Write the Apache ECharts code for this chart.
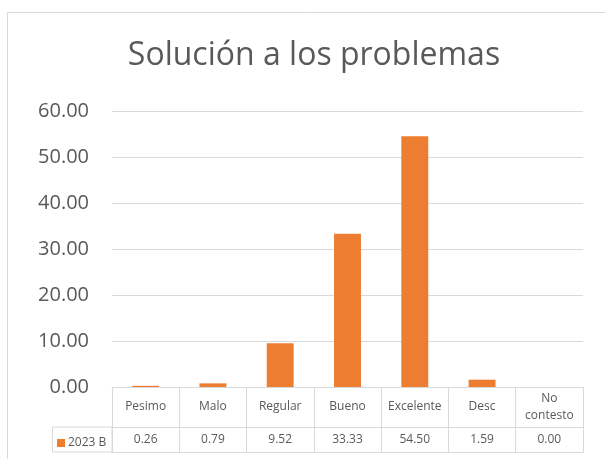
<!DOCTYPE html>
<html>
<head>
<meta charset="utf-8">
<script src="https://cdn.jsdelivr.net/npm/echarts@6/dist/echarts.min.js"></script>
<style>
  html, body { margin: 0; padding: 0; background: #fff; }
  #main { width: 605px; height: 459px; }
</style>
</head>
<body>
<div id="main"></div>
<script>
// datos de la gráfica
var categories = ["Pesimo", "Malo", "Regular", "Bueno", "Excelente", "Desc", "No\ncontesto"];
var values = [0.26, 0.79, 9.52, 33.33, 54.5, 1.59, 0.0];
var seriesName = "2023 B";
var yTicks = [0, 10, 20, 30, 40, 50, 60];

var FONT = "Open Sans";
var TEXT = "#595959";
var LINE = "#D9D9D9";
var ORANGE = "#ED7D31";

var chart = echarts.init(document.getElementById("main"));

// filas de la tabla debajo del eje
var gridLeft = 112, gridRight = 22, gridTop = 111, gridBottom = 72;
var headerH = 40, rowH = 25;

chart.setOption({
  animation: false,
  backgroundColor: "#fff",
  title: {
    text: "Solución a los problemas",
    left: 309,
    top: 35,
    textAlign: "center",
    textStyle: { fontFamily: FONT, fontSize: 32, fontWeight: "normal", color: TEXT }
  },
  legend: {
    data: [seriesName],
    left: 52,
    top: 432,
    icon: "rect",
    itemWidth: 8,
    itemHeight: 8,
    itemGap: 4,
    textStyle: { fontFamily: FONT, fontSize: 12, color: TEXT, padding: [0, 0, 0, -2] }
  },
  grid: { left: gridLeft, right: gridRight, top: gridTop, bottom: gridBottom },
  xAxis: [
    {
      type: "category",
      data: categories,
      axisLine: { show: true, lineStyle: { color: LINE, width: 1 } },
      axisTick: { show: true, interval: 0, length: headerH + rowH, lineStyle: { color: LINE, width: 1 } },
      axisLabel: {
        interval: 0,
        margin: headerH / 2,
        verticalAlign: "middle",
        lineHeight: 17,
        fontFamily: FONT,
        fontSize: 12,
        color: TEXT
      }
    },
    {
      type: "category",
      data: values.map(function (v) { return v.toFixed(2); }),
      position: "bottom",
      offset: headerH,
      axisLine: { show: true, lineStyle: { color: LINE, width: 1 } },
      axisTick: { show: false },
      axisLabel: {
        interval: 0,
        margin: rowH / 2,
        verticalAlign: "middle",
        fontFamily: FONT,
        fontSize: 12,
        color: TEXT
      }
    },
    {
      type: "category",
      data: categories,
      position: "bottom",
      offset: headerH + rowH,
      axisLine: { show: true, lineStyle: { color: LINE, width: 1 } },
      axisTick: { show: false },
      axisLabel: { show: false }
    }
  ],
  yAxis: {
    type: "value",
    min: yTicks[0],
    max: yTicks[yTicks.length - 1],
    interval: 10,
    axisLine: { show: false },
    axisTick: { show: false },
    splitLine: { lineStyle: { color: LINE, width: 1 } },
    axisLabel: {
      margin: 23,
      fontFamily: FONT,
      fontSize: 20,
      color: TEXT,
      formatter: function (v) { return v.toFixed(2); }
    }
  },
  series: [
    {
      name: seriesName,
      type: "bar",
      data: values,
      barWidth: "40%",
      itemStyle: { color: ORANGE }
    }
  ],
  graphic: [
    // borde del área del gráfico
    {
      type: "rect",
      shape: { x: 7.5, y: 12.5, width: 640, height: 480 },
      style: { fill: null, stroke: LINE, lineWidth: 1 },
      z: -1
    },
    // celda de la leyenda
    {
      type: "rect",
      shape: { x: 52.5, y: 459 - gridBottom + headerH, width: gridLeft - 52.5, height: rowH },
      style: { fill: null, stroke: LINE, lineWidth: 1 }
    }
  ]
});
</script>
</body>
</html>
